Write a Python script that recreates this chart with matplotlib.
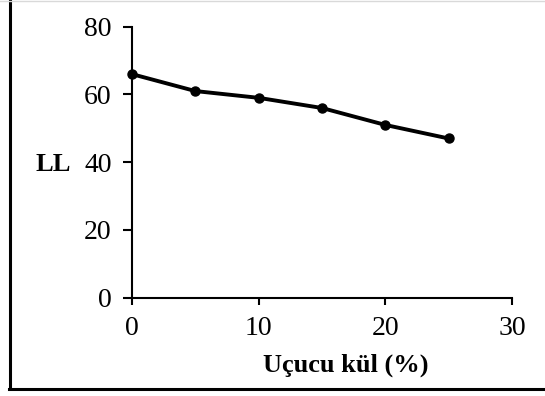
import matplotlib
matplotlib.use("Agg")
import matplotlib.pyplot as plt
from matplotlib.lines import Line2D

# Liquid limit vs. fly ash content
fly_ash_pct = [0, 5, 10, 15, 20, 25]
liquid_limit = [66, 61, 59, 56, 51, 47]
x_ticks = [0, 10, 20, 30]
y_ticks = [0, 20, 40, 60, 80]

plt.rcParams["font.family"] = ["Liberation Serif", "DejaVu Serif"]

W, H = 545, 396
fig = plt.figure(figsize=(W / 100, H / 100), dpi=100)
ax = fig.add_axes([132 / W, 1 - 297.7 / H, 380 / W, 271 / H])

ax.plot(fly_ash_pct, liquid_limit, color="black", lw=2.8,
        marker="o", markersize=6.5, markerfacecolor="black",
        markeredgecolor="black", solid_capstyle="round", clip_on=False)

ax.set_xlim(0, 30)
ax.set_ylim(0, 80)
ax.set_xticks(x_ticks)
ax.set_yticks(y_ticks)
ax.tick_params(axis="both", direction="out", width=1.5, color="black",
               labelsize=20, labelcolor="black")
ax.tick_params(axis="x", length=5, pad=8)
ax.tick_params(axis="y", length=6.5, pad=8)

for side in ("top", "right"):
    ax.spines[side].set_visible(False)
for side in ("left", "bottom"):
    ax.spines[side].set_linewidth(1.5)
    ax.spines[side].set_color("black")

ax.text(0.563, -0.248, "Uçucu kül (%)", transform=ax.transAxes,
        ha="center", va="center", fontsize=19, fontweight="bold")
ax.text(-0.208, 0.49, "LL", transform=ax.transAxes,
        ha="center", va="center", fontsize=19, fontweight="bold")

# outer frame of the chart area
fig.add_artist(Line2D([9.5 / W, 9.5 / W], [1 - 388 / H, 1], transform=fig.transFigure,
                      color="black", lw=2.2))
fig.add_artist(Line2D([8.5 / W, 1], [1 - 388.5 / H, 1 - 388.5 / H], transform=fig.transFigure,
                      color="black", lw=2.2))
fig.add_artist(Line2D([0, 1], [1 - 0.5 / H, 1 - 0.5 / H], transform=fig.transFigure,
                      color="#d9d9d9", lw=1.0))

fig.savefig("out.png", dpi=100, facecolor="white")
